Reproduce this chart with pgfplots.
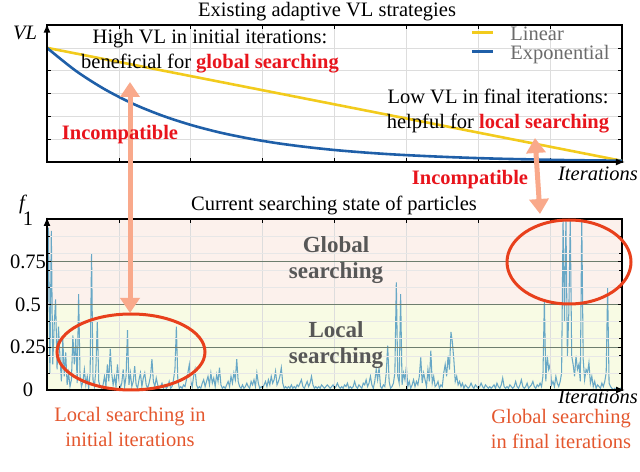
\documentclass[border=0pt]{standalone}
\usepackage{pgfplots}
\usepackage{pgfplotstable}
\usepackage{fontspec}
\setmainfont{Liberation Serif}
\pgfplotsset{compat=1.18}
\usetikzlibrary{arrows.meta}

\definecolor{vlyellow}{HTML}{F2CB1D}
\definecolor{vlblue}{HTML}{1F5FA8}
\definecolor{fblue}{HTML}{68A8C6}
\definecolor{hotred}{HTML}{E8141C}
\definecolor{ored}{HTML}{E8401C}
\definecolor{otext}{HTML}{E4572E}
\definecolor{salmon}{HTML}{F9A98B}
\definecolor{pinkbg}{HTML}{FCF1EC}
\definecolor{greenbg}{HTML}{F8FBE4}
\definecolor{darkgrid}{HTML}{6E7E6E}
\definecolor{lightgrid}{HTML}{DDDDDD}
\definecolor{labgray}{HTML}{575757}
\definecolor{leggray}{HTML}{6B6B6B}
\newcommand\fs{\fontsize{20.5bp}{25bp}\selectfont}
\newcommand\fb{\fontsize{23bp}{26bp}\selectfont}

% searching state f per iteration (0..400)
\pgfplotstableread[header=false,row sep=\\]{
0.30\\0.95\\0.10\\0.93\\0.15\\0.38\\0.53\\0.12\\0.37\\0.20\\0.05\\0.30\\0.08\\0.22\\0.03\\0.10\\0.02\\0.06\\0.32\\0.15\\
0.30\\0.04\\0.56\\0.08\\0.02\\0.05\\0.12\\0.03\\0.08\\0.01\\0.10\\0.80\\0.06\\0.02\\0.12\\0.40\\0.05\\0.02\\0.01\\0.03\\
0.08\\0.02\\0.15\\0.05\\0.24\\0.10\\0.03\\0.08\\0.02\\0.15\\0.06\\0.01\\0.04\\0.12\\0.02\\0.08\\0.35\\0.03\\0.10\\0.02\\
0.05\\0.14\\0.03\\0.01\\0.06\\0.10\\0.02\\0.07\\0.10\\0.03\\0.01\\0.04\\0.08\\0.18\\0.05\\0.02\\0.07\\0.03\\0.01\\0.02\\
0.04\\0.01\\0.03\\0.01\\0.02\\0.05\\0.01\\0.02\\0.06\\0.12\\0.37\\0.06\\0.01\\0.02\\0.01\\0.03\\0.02\\0.06\\0.10\\0.15\\
0.05\\0.02\\0.08\\0.12\\0.03\\0.01\\0.02\\0.01\\0.04\\0.06\\0.02\\0.05\\0.08\\0.03\\0.10\\0.04\\0.07\\0.02\\0.09\\0.05\\
0.13\\0.03\\0.01\\0.02\\0.01\\0.03\\0.05\\0.02\\0.08\\0.04\\0.10\\0.06\\0.18\\0.05\\0.02\\0.01\\0.03\\0.01\\0.02\\0.04\\
0.02\\0.01\\0.05\\0.03\\0.06\\0.02\\0.10\\0.04\\0.01\\0.02\\0.01\\0.03\\0.05\\0.02\\0.06\\0.03\\0.08\\0.04\\0.06\\0.11\\
0.03\\0.05\\0.08\\0.13\\0.04\\0.01\\0.02\\0.01\\0.02\\0.01\\0.03\\0.01\\0.02\\0.01\\0.03\\0.02\\0.04\\0.06\\0.02\\0.01\\
0.03\\0.05\\0.02\\0.04\\0.08\\0.03\\0.01\\0.02\\0.01\\0.02\\0.01\\0.03\\0.02\\0.01\\0.02\\0.03\\0.02\\0.01\\0.02\\0.03\\
0.01\\0.02\\0.04\\0.02\\0.01\\0.02\\0.01\\0.03\\0.02\\0.04\\0.01\\0.02\\0.01\\0.02\\0.05\\0.02\\0.01\\0.03\\0.02\\0.01\\
0.04\\0.03\\0.06\\0.02\\0.04\\0.08\\0.03\\0.01\\0.05\\0.12\\0.06\\0.13\\0.02\\0.01\\0.03\\0.02\\0.10\\0.26\\0.05\\0.01\\
0.02\\0.04\\0.10\\0.63\\0.08\\0.04\\0.56\\0.03\\0.10\\0.06\\0.14\\0.02\\0.05\\0.01\\0.03\\0.06\\0.02\\0.05\\0.03\\0.08\\
0.19\\0.04\\0.10\\0.06\\0.02\\0.12\\0.05\\0.23\\0.04\\0.08\\0.02\\0.03\\0.05\\0.01\\0.03\\0.02\\0.10\\0.15\\0.08\\0.20\\
0.12\\0.34\\0.28\\0.18\\0.05\\0.08\\0.03\\0.05\\0.02\\0.04\\0.01\\0.03\\0.02\\0.01\\0.02\\0.04\\0.02\\0.01\\0.03\\0.02\\
0.01\\0.02\\0.04\\0.02\\0.01\\0.03\\0.02\\0.01\\0.02\\0.01\\0.02\\0.03\\0.01\\0.04\\0.02\\0.01\\0.03\\0.07\\0.02\\0.01\\
0.02\\0.01\\0.03\\0.02\\0.01\\0.02\\0.05\\0.02\\0.01\\0.03\\0.06\\0.02\\0.01\\0.02\\0.04\\0.01\\0.02\\0.03\\0.05\\0.02\\
0.01\\0.03\\0.02\\0.04\\0.02\\0.08\\0.53\\0.05\\0.20\\0.12\\0.15\\0.03\\0.05\\0.02\\0.08\\0.04\\0.02\\0.05\\0.10\\1.00\\
0.40\\1.00\\0.20\\0.45\\1.00\\0.20\\0.15\\0.08\\0.20\\0.12\\0.15\\0.05\\1.00\\0.18\\0.06\\0.12\\0.10\\0.16\\0.04\\0.08\\
0.02\\0.05\\0.01\\0.03\\0.02\\0.01\\0.04\\0.02\\0.05\\0.10\\0.60\\0.04\\0.02\\0.01\\0.00\\0.01\\0.00\\0.01\\0.00\\0.01\\
0.00\\
}\fdata

\begin{document}
\begin{tikzpicture}
\useasboundingbox (0,0) rectangle (640bp,472bp);

% ---- top: VL strategies
\begin{axis}[at={(47bp,310bp)}, anchor=south west, scale only axis,
  width=575bp, height=137bp,
  xmin=0, xmax=400, ymin=0, ymax=1.2,
  xtick={0,50,100,150,200,250,300,350,400},
  ytick={0,0.2,0.4,0.6,0.8,1,1.2},
  xticklabel=\empty, yticklabel=\empty,
  grid=major, major grid style={lightgrid, line width=0.6bp},
  tick style={black, line width=0.6bp}, major tick length=4bp,
  axis line style={black, line width=1.2bp},
  clip=false,
  legend cell align=left,
  legend image code/.code={\draw[#1, line width=3bp] (0bp,4bp) -- (21bp,4bp);},
  legend style={draw=none, fill=none, at={(rel axis cs:0.736,0.975)},
    anchor=north west, font=\fs, row sep=2.5bp, inner sep=0bp,
    nodes={text=leggray, inner sep=0bp, text height=12bp, text depth=4.5bp},
    /tikz/every odd column/.append style={column sep=16bp}},
]
\addplot[vlyellow, line width=2.6bp] coordinates {(0,1) (400,0.01)};
\addlegendentry{Linear}
\addplot[vlblue, line width=2.6bp, smooth] coordinates {
(0,1.000) (20,0.799) (40,0.638) (60,0.509) (80,0.407) (100,0.325)
(120,0.259) (140,0.207) (160,0.165) (180,0.132) (200,0.105) (220,0.084)
(240,0.067) (260,0.054) (280,0.043) (300,0.034) (320,0.027) (340,0.022)
(360,0.017) (380,0.014) (400,0.011)};
\addlegendentry{Exponential}
\draw[line width=1.3bp, -{Latex[length=9bp,width=7bp]}] (rel axis cs:0,0) -- (rel axis cs:0,1.01);
\draw[line width=1.3bp, -{Latex[length=9bp,width=7bp]}] (rel axis cs:0,0) -- (rel axis cs:1.005,0);
\end{axis}

% ---- bottom: searching state
\begin{axis}[at={(47bp,82bp)}, anchor=south west, scale only axis,
  width=575bp, height=171bp,
  xmin=0, xmax=400, ymin=0, ymax=1,
  xtick={0,50,100,150,200,250,300,350,400}, xticklabel=\empty,
  ytick={0,0.25,0.5,0.75,1}, yticklabels={0,0.25,0.5,0.75,1},
  minor ytick={0.1,0.2,0.3,0.4,0.6,0.7,0.8,0.9},
  grid=both,
  major x grid style={lightgrid, line width=0.6bp},
  major y grid style={darkgrid, line width=0.9bp},
  minor grid style={lightgrid!70, line width=0.5bp},
  tick style={black, line width=0.6bp}, major tick length=4bp, minor tick length=3bp,
  yticklabel style={font=\fs, anchor=center, xshift=-19bp},
  axis line style={black, line width=1.2bp},
  axis on top,
]
\addplot[fill=greenbg, draw=none]
  coordinates {(0,0) (400,0) (400,0.5) (0,0.5)} -- cycle;
\addplot[fill=pinkbg, draw=none]
  coordinates {(0,0.5) (400,0.5) (400,1) (0,1)} -- cycle;
\addplot[fblue, line width=1.05bp] table[x expr=\coordindex, y index=0] {\fdata};
\end{axis}
\begin{scope}[line width=1.3bp]
\draw[-{Latex[length=9bp,width=7bp]}] (47bp,82bp) -- (47bp,255bp);
\draw[-{Latex[length=9bp,width=7bp]}] (47bp,82bp) -- (625bp,82bp);
\end{scope}

% ---- annotations
\draw[salmon, line width=5bp, {Triangle[width=19bp,length=15bp]}-{Triangle[width=19bp,length=15bp]}]
  (130bp,390bp) -- (130bp,159bp);
\draw[salmon, line width=5bp, {Triangle[width=19bp,length=15bp]}-{Triangle[width=19bp,length=15bp]}]
  (535bp,334bp) -- (540bp,258bp);
\draw[ored, line width=3bp] (131bp,120bp) ellipse [x radius=74bp, y radius=38bp];
\draw[ored, line width=3bp] (569bp,210bp) ellipse [x radius=62bp, y radius=42bp];

\node[font=\fs] at (327bp,460bp) {Existing adaptive VL strategies};
\node[font=\fs\itshape] at (25bp,439bp) {VL};
\node[font=\fs, align=center] at (210bp,421bp)
  {High VL in initial iterations:\\beneficial for \textcolor{hotred}{\bfseries global searching}};
\node[font=\fs, align=center] at (498bp,361bp)
  {Low VL in final iterations:\\helpful for \textcolor{hotred}{\bfseries local searching}};
\node[font=\fs\bfseries, text=hotred] at (120bp,337bp) {Incompatible};
\node[font=\fs\bfseries, text=hotred] at (470bp,292bp) {Incompatible};
\node[font=\fs\itshape] at (598bp,298bp) {Iterations};
\node[font=\fs] at (334bp,267bp) {Current searching state of particles};
\node[font=\fs\itshape] at (22bp,268bp) {f};
\node[font=\fb\bfseries, text=labgray, align=center] at (336bp,212bp) {Global\\searching};
\node[font=\fb\bfseries, text=labgray, align=center] at (336bp,127bp) {Local\\searching};
\node[font=\fs\itshape] at (598bp,75bp) {Iterations};
\node[font=\fs, text=otext, align=center] at (130bp,45bp) {Local searching in\\initial iterations};
\node[font=\fs, text=otext, align=center] at (561bp,43bp) {Global searching\\in final iterations};
\end{tikzpicture}
\end{document}
